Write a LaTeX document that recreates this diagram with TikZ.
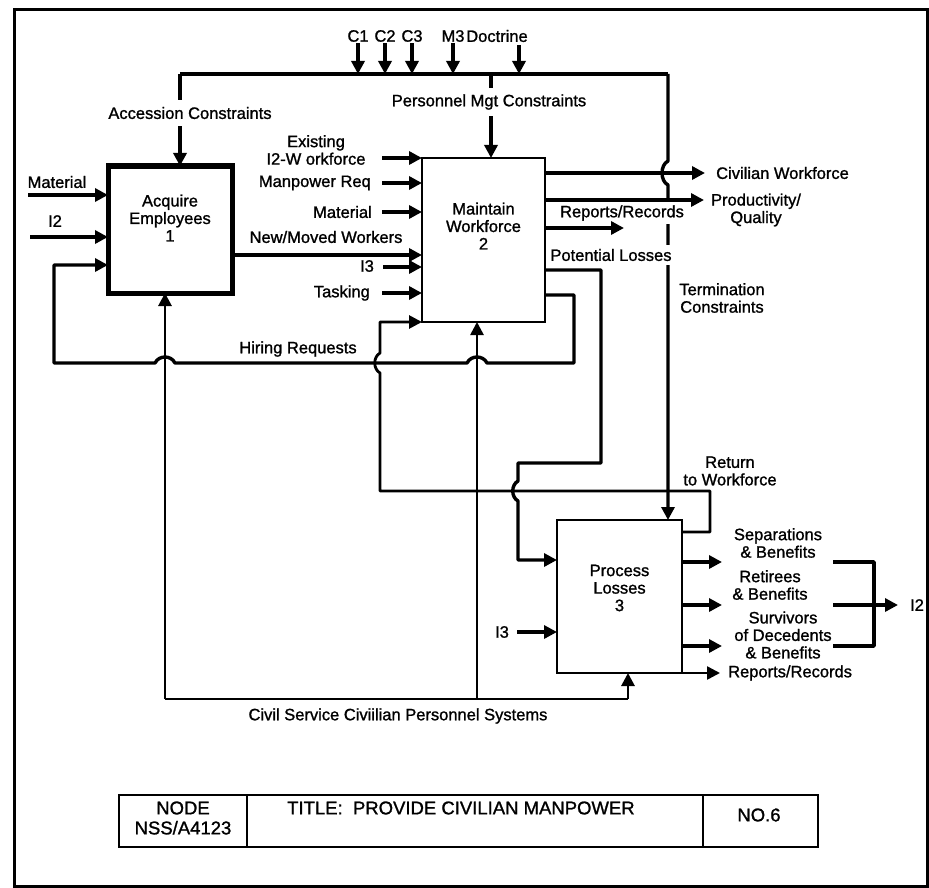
\documentclass[tikz,border=0pt]{standalone}
\usepackage{fontspec}
\setmainfont{Liberation Sans}[BoldFont=Liberation Sans, BoldFeatures={FakeBold=1.2}]
\usetikzlibrary{arrows.meta}
\newcommand\dfont{\fontsize{16.5}{17.5}\selectfont\bfseries}
\newcommand\tfont{\fontsize{18.5}{20}\selectfont\bfseries}
\begin{document}
\begin{tikzpicture}[x=1pt,y=-1pt,
  conn/.style={line width=3.4pt, line join=round},
  arr/.style={conn, -{Triangle[length=13pt,width=13pt]}},
  lbl/.style={font=\dfont, inner sep=1pt, align=center},
  wlbl/.style={lbl, fill=white, inner xsep=2pt, inner ysep=3pt},
  box/.style={draw, fill=white, inner sep=0pt, outer sep=0pt},
  cell/.style={draw, line width=2.5pt, inner sep=0pt, outer sep=0pt, minimum height=52pt}]
\useasboundingbox (0,0) rectangle (929,888);
\draw[line width=3pt] (14,10) rectangle (927,886);

% boxes
\node[box, line width=5pt, minimum width=124pt, minimum height=127pt] (acq) at (170,229.5) {};
\node[box, line width=1.8pt, minimum width=123pt, minimum height=164pt] (mnt) at (483.5,240) {};
\node[box, line width=1.8pt, minimum width=125pt, minimum height=153pt] (prc) at (619.5,596.5) {};
\node[lbl] (acqT) at (170,218) {Acquire\\Employees\\1};
\node[lbl] (mntT) at (483.5,226) {Maintain\\Workforce\\2};
\node[lbl] (prcT) at (619.5,588) {Process\\Losses\\3};

% top control bar
\coordinate (tl) at (180,74);
\coordinate (tr) at (668,74);
\coordinate (pm) at (491,74);
\draw[conn] (tl) -- (tr);
\draw[arr] (tl) -- (tl |- acq.north);
\draw[arr] (pm) -- (pm |- mnt.north);
\node[wlbl, inner ysep=7pt] (acc) at (190,113) {Accession Constraints};
\node[wlbl, inner ysep=6pt] (pml) at (489,102) {Personnel Mgt Constraints};

\node[lbl] (c1) at (358,36) {C1};
\node[lbl] (c2) at (385,36) {C2};
\node[lbl] (c3) at (412,36) {C3};
\node[lbl] (m3) at (453,36) {M3};
\node[lbl] (doc) at (497,36) {Doctrine};
\coordinate (dA) at (519,45);
\foreach \n in {c1,c2,c3,m3} \draw[arr] (\n.south) -- (\n.south |- tl);
\draw[arr] (dA) -- (dA |- tl);

% termination constraints
\draw[arr] (tr) -- (668,161) .. controls (660,165) and (660,181) .. (668,185) -- (tr |- prc.north);
\node[wlbl, inner ysep=3pt] (rr1) at (622,213) {Reports/Records};
\node[wlbl, inner ysep=4pt] (pl) at (611,255) {Potential Losses};
\node[lbl] (tc) at (722,298) {Termination\\Constraints};

% inputs to Acquire
\node[lbl] (mat1) at (57,182) {Material};
\coordinate (m1s) at (28,195);
\draw[arr] (m1s) -- (m1s -| acq.west);
\node[lbl] (i2a) at (55,221) {I2};
\coordinate (i2s) at (30,237);
\draw[arr] (i2s) -- (i2s -| acq.west);

% inputs to Maintain
\node[lbl] (ex) at (316,150) {Existing\\I2-W orkforce};
\coordinate (exs) at (382,158);
\draw[arr] (exs) -- (exs -| mnt.west);
\node[lbl, anchor=east] (mpr) at (372,183) {Manpower Req};
\coordinate (mps) at (382,183);
\draw[arr] (mps) -- (mps -| mnt.west);
\node[lbl, anchor=east] (mat2) at (373,212) {Material};
\coordinate (mts) at (382,212);
\draw[arr] (mts) -- (mts -| mnt.west);
\coordinate (nws) at (232,255);
\draw[arr] (nws) -- (nws -| mnt.west);
\node[lbl] (nmw) at (326,237) {New/Moved Workers};
\node[lbl] (i3a) at (367,266) {I3};
\coordinate (i3s) at (383,267);
\draw[arr] (i3s) -- (i3s -| mnt.west);
\node[lbl, anchor=east] (tsk) at (371,293) {Tasking};
\coordinate (tks) at (382,293);
\draw[arr] (tks) -- (tks -| mnt.west);

% outputs of Maintain
\coordinate (cwo) at (545,173);
\draw[arr] (cwo) -- (705,173);
\node[lbl, anchor=west] (cw) at (715,173) {Civilian Workforce};
\coordinate (pqo) at (545,200);
\draw[arr] (pqo) -- (704,200);
\node[lbl] (pq) at (756,210) {Productivity/\\Quality};
\coordinate (rro) at (545,228);
\draw[arr] (rro) -- (624,228);

% potential losses
\coordinate (plo) at (545,270);
\draw[arr] (plo) -- (601,270) -- (601,463) -- (518,463) -- (518,481)
  .. controls (511,485) and (511,497) .. (518,501) -- (518,560) -- (prc.west |- 0,560);

% hiring requests
\coordinate (hro) at (545,295);
\draw[arr] (hro) -- (574,295) -- (574,363) -- (487,363)
  .. controls (483,355) and (471,355) .. (467,363) -- (175,363)
  .. controls (171,355) and (159,355) .. (155,363) -- (54,363) -- (54,265) -- (acq.west |- 0,265);
\node[lbl] (hr) at (298,349) {Hiring Requests};

% return to workforce
\coordinate (rto) at (682,532);
\draw[arr, line width=2.8pt] (rto) -- (710,532) -- (710,491) -- (380,491) -- (380,373)
  .. controls (373,369) and (373,357) .. (380,353) -- (380,322) -- (mnt.west |- 0,322);
\node[lbl] (rtw) at (730,471) {Return\\to Workforce};

% outputs of Process
\coordinate (so) at (682,562);
\coordinate (ro) at (682,605);
\coordinate (vo) at (682,646);
\draw[arr] (so) -- (722,562);
\draw[arr] (ro) -- (722,605);
\draw[arr] (vo) -- (722,646);
\draw[arr, line width=2.5pt] (prc.south east) -- (720,673);
\node[lbl] (sep) at (778,543) {Separations\\\& Benefits};
\node[lbl] (ret) at (770,585) {Retirees\\\& Benefits};
\node[lbl] (sur) at (783,635) {Survivors\\of Decedents\\\& Benefits};
\node[lbl, anchor=west] (rr2) at (727,673) {Reports/Records};
\coordinate (b1) at (833,562);
\coordinate (b2) at (833,605);
\coordinate (b3) at (833,646);
\draw[conn] (b1) -- (874,562) -- (874,646) -- (b3);
\draw[arr] (b2) -- (898,605);
\node[lbl] (i2o) at (917,605) {I2};

% I3 into Process
\node[lbl] (i3b) at (502,632) {I3};
\coordinate (i3p) at (517,632);
\draw[arr] (i3p) -- (i3p -| prc.west);

% civil service mechanism
\coordinate (cv) at (165,699);
\coordinate (cm) at (477,699);
\coordinate (cp) at (628,699);
\draw[conn, line width=2.8pt] (cv) -- (cp);
\draw[arr, line width=2.8pt] (cv) -- (cv |- acq.south);
\draw[arr, line width=2.6pt] (cm) -- (cm |- mnt.south);
\draw[arr, line width=2.8pt] (cp) -- (cp |- prc.south);
\node[lbl] (csl) at (398,716) {Civil Service Civiilian Personnel Systems};

% title block
\node[cell, minimum width=128pt] (cn) at (183,821) {};
\node[cell, minimum width=456pt] (ct) at (475,821) {};
\node[cell, minimum width=115pt] (cno) at (760.5,821) {};
\node[font=\tfont, align=center, inner sep=0pt] (nodeT) at (183,818) {NODE\\NSS/A4123};
\node[font=\tfont, anchor=west, inner sep=0pt] (titleT) at (287,808) {TITLE:\ \ PROVIDE CIVILIAN MANPOWER};
\node[font=\tfont, inner sep=0pt] (noT) at (759,815) {NO.6};
\end{tikzpicture}
\end{document}
